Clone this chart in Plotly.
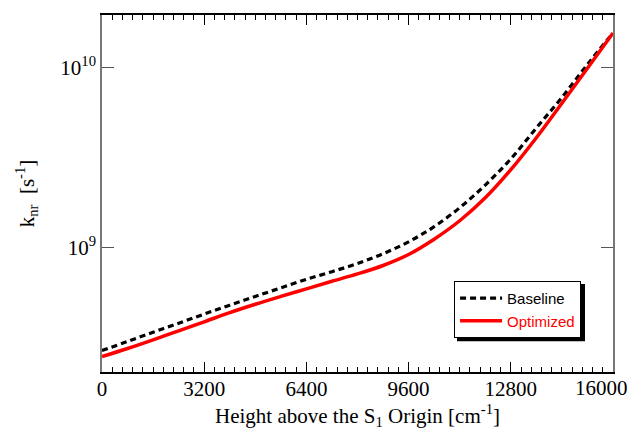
import plotly.graph_objects as go

# Height above S1 origin [cm^-1]
height = [0, 800, 1600, 2400, 3200, 4000, 4800, 5600, 6400, 7200, 8000,
          8800, 9600, 10400, 11200, 12000, 12800, 13600, 14400, 15200, 16000]

# k_nr [s^-1]
baseline = [2.692e8, 3.024e8, 3.402e8, 3.821e8, 4.294e8, 4.811e8, 5.379e8,
            6.003e8, 6.693e8, 7.384e8, 8.200e8, 9.286e8, 1.082e9, 1.313e9,
            1.673e9, 2.236e9, 3.122e9, 4.642e9, 6.858e9, 1.046e10, 1.564e10]
optimized = [2.493e8, 2.765e8, 3.090e8, 3.467e8, 3.890e8, 4.372e8, 4.866e8,
             5.379e8, 5.928e8, 6.531e8, 7.172e8, 7.991e8, 9.203e8, 1.119e9,
             1.416e9, 1.898e9, 2.720e9, 4.095e9, 6.366e9, 9.950e9, 1.564e10]

x_tickvals = [0, 3200, 6400, 9600, 12800]
x_ticktext = ["0", "3200", "6400", "9600", "12800"]
x_last_label = "16000"
y_tickvals = [1e9, 1e10]
y_ticktext = ["10<sup>9</sup>", "10<sup>10</sup>"]

serif = "Liberation Serif"
sans = "Liberation Sans"

fig = go.Figure()
fig.add_trace(go.Scatter(
    x=height, y=baseline, mode="lines", name="Baseline",
    line=dict(color="black", width=3.2, dash="6px,4px", shape="spline"),
))
fig.add_trace(go.Scatter(
    x=height, y=optimized, mode="lines",
    name="<span style='color:#ff0000'>Optimized</span>",
    line=dict(color="#ff0000", width=3.5, shape="spline"),
))

# legend drop shadow
fig.add_shape(type="rect", xref="paper", yref="paper",
              x0=0.6947, x1=0.9452, y0=0.086, y1=0.2465,
              fillcolor="black", line=dict(width=0), layer="above")

fig.add_annotation(x=16000, xref="x", y=0, yref="paper", yanchor="top",
                   text=x_last_label, showarrow=False, xshift=-12, yshift=-2,
                   font=dict(family=serif, size=21, color="black"))

fig.update_layout(
    width=629, height=436,
    margin=dict(l=102, r=16, t=15, b=64),
    paper_bgcolor="white", plot_bgcolor="white",
    showlegend=True,
    legend=dict(x=0.689, y=0.255, xanchor="left", yanchor="top",
                bgcolor="white", bordercolor="black", borderwidth=1,
                font=dict(family=sans, size=15, color="black"),
                itemwidth=42, tracegroupgap=0),
)
fig.update_xaxes(
    range=[0, 16000], tickvals=x_tickvals, ticktext=x_ticktext,
    ticks="inside", ticklen=10, tickwidth=1.3, tickcolor="black",
    minor=dict(ticks="inside", dtick=320, tick0=0, ticklen=5, tickwidth=1.2,
               tickcolor="black", showgrid=False),
    showline=True, linecolor="black", linewidth=1.5, mirror="ticks",
    showgrid=False, zeroline=False, ticklabelstandoff=-3,
    tickfont=dict(family=serif, size=21, color="black"),
    title=dict(text="Height above the S<sub>1</sub> Origin [cm<sup>-1</sup>]",
               font=dict(family=serif, size=21, color="black"), standoff=0),
)
fig.update_yaxes(
    type="log", range=[8.311, 10.294], tickvals=y_tickvals, ticktext=y_ticktext,
    ticks="inside", ticklen=12, tickwidth=1.3, tickcolor="#555555",
    showline=True, linecolor="#777777", linewidth=1.5, mirror="ticks",
    showgrid=False, zeroline=False,
    tickfont=dict(family=serif, size=21, color="black"),
    title=dict(text="k<sub>nr</sub>  [s<sup>-1</sup>]",
               font=dict(family=serif, size=21, color="black"), standoff=20),
)

fig.write_html("out.html")
